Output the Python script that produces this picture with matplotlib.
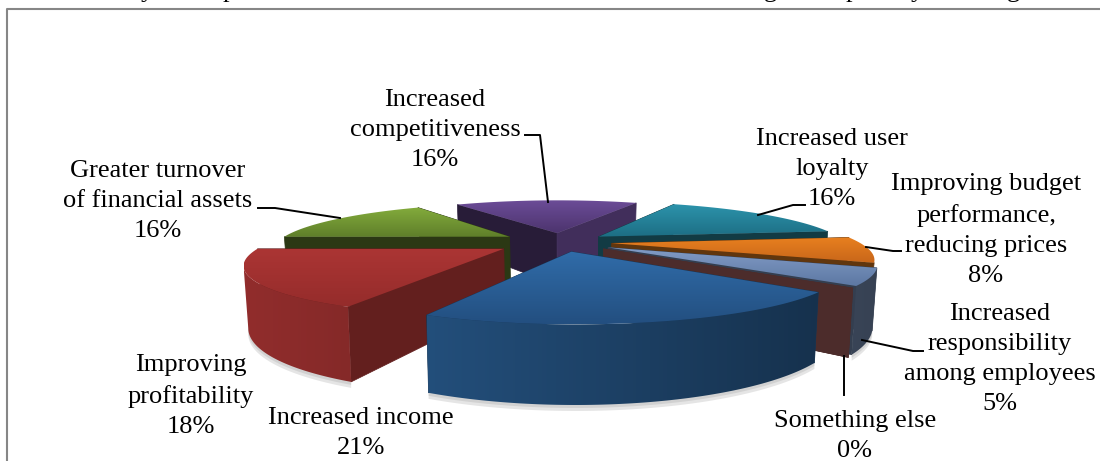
import numpy as np
import matplotlib
matplotlib.use("Agg")
import matplotlib.pyplot as plt
from matplotlib.colors import to_rgb
from matplotlib.patches import Polygon

# Slice data, clockwise from the front right edge
values = [21, 18, 16, 16, 16, 8, 5, 0]
labels = ["Increased income", "Improving\nprofitability", "Greater turnover\nof financial assets",
          "Increased\ncompetitiveness", "Increased user\nloyalty",
          "Improving budget\nperformance,\nreducing prices",
          "Increased\nresponsibility\namong employees", "Something else"]
top_light = ["#306ca9", "#ab3534", "#83ab3c", "#6c4c97", "#2c93ab", "#e8801f", "#829cc6", "#53302f"]
top_dark = ["#234f80", "#952c2b", "#5f7f2a", "#4c346e", "#1d6e84", "#c8661a", "#5d78a3", "#53302f"]
start_shade = [0.5, 0.58, 0.33, 0.37, 0.4, 0.4, 0.4, 0.92]
end_shade = [0.5, 0.58, 0.33, 0.6, 0.4, 0.42, 0.4, 0.92]
explode = [0.2, 0.26, 0.24, 0.2, 0.2, 0.21, 0.22, 0.22]
radius = [1, 0.96, 0.94, 0.96, 1, 1, 1, 1]

# Label placement
label_x = [361, 191, 158, 435, 832, 986, 1000, 855]
label_y = [433, 396, 201, 130, 169, 230, 359, 436]

# Leader lines, one per labelled slice
leaders = [
    ([525, 540, 548], [135, 135, 202]),
    ([258, 275, 340], [208, 208, 218]),
    ([758, 793, 805], [215, 205, 205]),
    ([866, 893, 901], [247, 251, 251]),
    ([862, 913, 923], [340, 351, 351]),
    ([844, 844], [356, 395]),
]

# Bits of the page text above the chart, cut off by the crop
cut_text = ["y", "p", "g", "p", "y", "g"]
cut_x = [147, 229, 770, 852, 917, 1013]

# Projection of the tilted pie
cx, cy = 560, 242
rx, ry = 247, 47
persp = 0.266
depth = 55
start_angle = -39.6
draw_order = [3, 2, 4, 5, 6, 7, 1, 0]

plt.rcParams['font.family'] = ['Liberation Serif', 'DejaVu Serif']


def project(px, py):
    s = 1 / (1 + persp * py)
    return cx + rx * px * s, cy - ry * py * s, s


def lower(x, y, s):
    return cx + (x - cx) * 0.985, y + depth * s


def light(x):
    return np.interp(x, [243, 877], [0.85, 0.42])


def facing(th, ox, oy, r):
    # rim points whose outward normal looks at the viewer
    return r + ox * np.cos(th) + oy * np.sin(th) + np.sin(th) / persp < 0


def gradient_fill(ax, px, py, colors, z, vertical=True):
    # colors runs top to bottom or left to right over the shape's box
    outline = Polygon(np.c_[px, py], closed=True, facecolor="none", edgecolor="none", transform=ax.transData)
    ax.add_patch(outline)
    img = colors[:, None, :] if vertical else colors[None, :, :]
    im = ax.imshow(img, extent=[px.min(), px.max(), py.max(), py.min()], aspect="auto", zorder=z,
                   interpolation="bilinear")
    im.set_clip_path(outline)


fig = plt.figure(figsize=(11, 4.61), dpi=100)
ax = fig.add_axes([0, 0, 1, 1])

fractions = np.concatenate([[0], np.cumsum(values)]) / sum(values)
angles = np.radians(start_angle - 360 * fractions)

# soft shadow under the front rims
for i in [0, 1, 6]:
    mid = (angles[i] + angles[i + 1]) / 2
    ox, oy = explode[i] * np.cos(mid), explode[i] * np.sin(mid)
    th = np.linspace(angles[i], angles[i + 1], 60)
    th = th[facing(th, ox, oy, radius[i])]
    x, y, s = project(ox + radius[i] * np.cos(th), oy + radius[i] * np.sin(th))
    xb, yb = lower(x, y, s)
    for shift in [6, 3]:
        ax.fill(np.r_[xb, xb[::-1]], np.r_[yb - 12, yb[::-1] + shift], color="#999999", alpha=0.25, lw=0, zorder=1)

z = 2
for i in draw_order:
    mid = (angles[i] + angles[i + 1]) / 2
    ox, oy = explode[i] * np.cos(mid), explode[i] * np.sin(mid)
    r = radius[i]
    base = np.array(to_rgb(top_light[i]))
    th = np.linspace(angles[i], angles[i + 1], 80)
    x, y, s = project(ox + r * np.cos(th), oy + r * np.sin(th))
    ax0, ay0, as0 = project(ox, oy)

    # inner walls
    for ang, shade in [(angles[i], start_shade[i]), (angles[i + 1], end_shade[i])]:
        ex, ey, es = project(ox + r * np.cos(ang), oy + r * np.sin(ang))
        exb, eyb = lower(ex, ey, es)
        axb, ayb = lower(ax0, ay0, as0)
        color = base * shade
        ax.add_patch(Polygon([(ax0, ay0), (ex, ey), (exb, eyb), (axb, ayb)], closed=True,
                             facecolor=color, edgecolor=color, lw=0.5, zorder=z))
        z += 1

    if values[i] == 0:
        continue

    # outer rim, only the part facing the viewer
    front = facing(th, ox, oy, r)
    if front.sum() > 1:
        xb, yb = lower(x[front], y[front], s[front])
        rim_x = np.r_[x[front], xb[::-1]]
        rim_y = np.r_[y[front], yb[::-1]]
        ramp = np.linspace(rim_x.min(), rim_x.max(), 64)
        gradient_fill(ax, rim_x, rim_y, base * light(ramp)[:, None], z, vertical=False)
        z += 1

    # top face with vertical gradient
    px = np.r_[ax0, x]
    py = np.r_[ay0, y]
    colors = np.linspace(0, 1, 64)[:, None] * (np.array(to_rgb(top_dark[i])) - base) + base
    gradient_fill(ax, px, py, colors, z)
    z += 1

# leader lines
for lx, ly in leaders:
    ax.plot(lx, ly, color="black", lw=1.4, zorder=z, solid_joinstyle="round")

# labels
for i in range(len(values)):
    ax.text(label_x[i], label_y[i], f"{labels[i]}\n{values[i]}%", ha="center", va="center", fontsize=19,
            linespacing=1.47, color="black", zorder=z + 1)

for t, tx in zip(cut_text, cut_x):
    ax.text(tx, -3, t, ha="center", va="baseline", fontsize=19, color="black", clip_on=False)

# frame of the embedded chart
ax.plot([7, 7, 1100], [461, 9, 9], color="#868686", lw=1.5, zorder=z)

ax.set_xlim(0, 1100)
ax.set_ylim(461, 0)
ax.axis("off")
fig.savefig("out.png", dpi=100)
